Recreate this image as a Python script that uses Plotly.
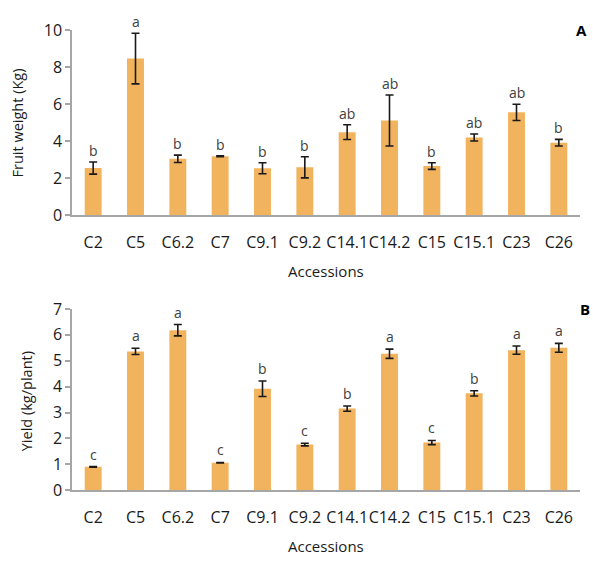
import plotly.graph_objects as go

accessions = ["C2", "C5", "C6.2", "C7", "C9.1", "C9.2", "C14.1", "C14.2", "C15", "C15.1", "C23", "C26"]

fruit_weight = [2.55, 8.47, 3.05, 3.19, 2.54, 2.59, 4.49, 5.12, 2.66, 4.20, 5.56, 3.92]
fruit_weight_err = [0.33, 1.37, 0.20, 0.02, 0.30, 0.57, 0.40, 1.38, 0.18, 0.19, 0.44, 0.18]
fruit_weight_letters = ["b", "a", "b", "b", "b", "b", "ab", "ab", "b", "ab", "ab", "b"]

yield_kg = [0.90, 5.36, 6.18, 1.06, 3.92, 1.76, 3.15, 5.27, 1.84, 3.74, 5.41, 5.50]
yield_err = [0.01, 0.12, 0.22, 0.01, 0.30, 0.05, 0.10, 0.18, 0.08, 0.10, 0.16, 0.17]
yield_letters = ["c", "a", "a", "c", "b", "c", "b", "a", "c", "b", "a", "a"]

W, H = 593, 567
BAR = "#F2B35E"
AXIS = "#A6A6A6"
FONT = "Open Sans, DejaVu Sans, sans-serif"
TXT = "#404040"
DARK = "#1a1a1a"

def px_x(p):
    return p / W

def px_y(p):
    return 1 - p / H

fig = go.Figure()

for ys, errs, xa, ya in [(fruit_weight, fruit_weight_err, "x", "y"), (yield_kg, yield_err, "x2", "y2")]:
    fig.add_trace(go.Bar(
        x=accessions, y=ys,
        error_y=dict(type="data", array=errs, color=DARK, thickness=1.6, width=4),
        marker=dict(color=BAR, line=dict(width=0)),
        xaxis=xa, yaxis=ya, showlegend=False, hoverinfo="skip",
    ))

X0, X1 = 72, 580
xdom = [px_x(X0), px_x(X1)]
common_x = dict(
    domain=xdom, showline=True, linecolor=AXIS, linewidth=1.5,
    ticks="outside", ticklen=12, tickcolor="rgba(0,0,0,0)", tickangle=0,
    tickfont=dict(family=FONT, size=16, color=DARK),
    showgrid=False, zeroline=False, fixedrange=True,
)
common_y = dict(
    showline=True, linecolor=AXIS, linewidth=1.5,
    ticks="outside", ticklen=5, tickcolor=AXIS, tickwidth=1.5,
    tickfont=dict(family=FONT, size=16, color=DARK),
    showgrid=False, zeroline=False, fixedrange=True,
)

TOP = (20, 212.5)
BOT = (310, 498.5)

fig.update_layout(
    width=W, height=H,
    margin=dict(l=0, r=0, t=0, b=0),
    paper_bgcolor="white", plot_bgcolor="white",
    bargap=0.6,
    xaxis=dict(common_x, anchor="y"),
    yaxis=dict(common_y, domain=[px_y(TOP[1]), px_y(TOP[0])], range=[0, 10], dtick=2, anchor="x"),
    xaxis2=dict(common_x, anchor="y2"),
    yaxis2=dict(common_y, domain=[px_y(BOT[1]), px_y(BOT[0])], range=[0, 7], dtick=1, anchor="x2"),
)

shapes = []
for yb in (TOP[1], BOT[1]):
    shapes.append(dict(type="line", xref="paper", yref="paper",
                       x0=px_x(X0 - 5), x1=px_x(X0), y0=px_y(yb), y1=px_y(yb),
                       line=dict(color=AXIS, width=1.5)))

annotations = []
for cat, v, e, lab in zip(accessions, fruit_weight, fruit_weight_err, fruit_weight_letters):
    annotations.append(dict(x=cat, y=v + e, xref="x", yref="y", text=lab, showarrow=False,
                            yanchor="bottom", yshift=0,
                            font=dict(family=FONT, size=14, color=TXT)))
for cat, v, e, lab in zip(accessions, yield_kg, yield_err, yield_letters):
    annotations.append(dict(x=cat, y=v + e, xref="x2", yref="y2", text=lab, showarrow=False,
                            yanchor="bottom", yshift=1,
                            font=dict(family=FONT, size=14, color=TXT)))

annotations += [
    dict(x=px_x(326), y=px_y(270), xref="paper", yref="paper", text="Accessions", showarrow=False,
         xanchor="center", yanchor="middle", font=dict(family=FONT, size=15, color=DARK)),
    dict(x=px_x(326), y=px_y(557), xref="paper", yref="paper", text="Accessions", showarrow=False,
         xanchor="center", yanchor="middle", font=dict(family=FONT, size=15, color=DARK)),
    dict(x=px_x(17), y=px_y(117), xref="paper", yref="paper", text="Fruit weight (Kg)", showarrow=False,
         textangle=-90, xanchor="center", yanchor="middle", font=dict(family=FONT, size=14.5, color=DARK)),
    dict(x=px_x(26), y=px_y(406), xref="paper", yref="paper", text="Yield (kg/plant)", showarrow=False,
         textangle=-90, xanchor="center", yanchor="middle", font=dict(family=FONT, size=14.5, color=DARK)),
    dict(x=px_x(589), y=px_y(20), xref="paper", yref="paper", text="<b>A</b>", showarrow=False,
         xanchor="right", yanchor="middle", font=dict(family=FONT, size=15, color="black")),
    dict(x=px_x(592), y=px_y(310), xref="paper", yref="paper", text="<b>B</b>", showarrow=False,
         xanchor="right", yanchor="middle", font=dict(family=FONT, size=15, color="black")),
]
fig.update_layout(annotations=annotations, shapes=shapes)

fig.write_html(
    "out.html",
    config={"displayModeBar": False},
    post_script="document.body.style.margin='0';document.body.style.overflow='hidden';",
)
